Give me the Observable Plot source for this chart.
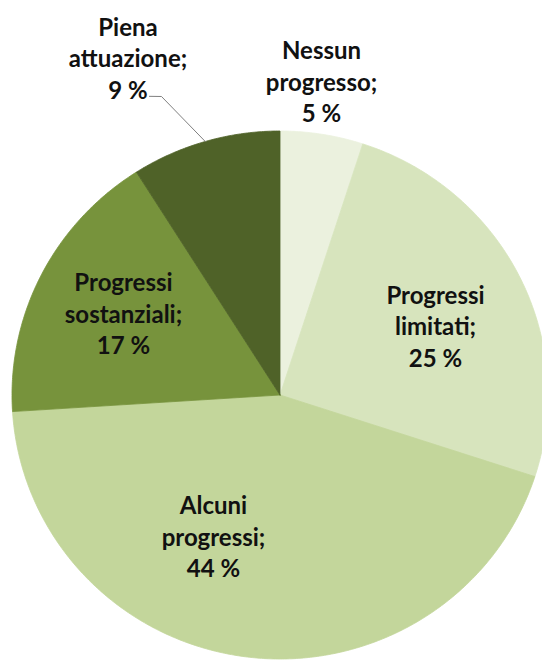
<!DOCTYPE html>
<html>
<head>
<meta charset="utf-8">
<script src="https://cdn.jsdelivr.net/npm/d3@7"></script>
<script src="https://cdn.jsdelivr.net/npm/@observablehq/plot@0.6"></script>
<style>
  html, body { margin: 0; padding: 0; background: #ffffff; }
  #chart { width: 542px; height: 660px; overflow: hidden; }
</style>
</head>
<body>
<div id="chart"></div>
<script>
// ---- data ----
const categories = ["Nessun progresso", "Progressi limitati", "Alcuni progressi", "Progressi sostanziali", "Piena attuazione"];
const values = [5, 25, 44, 17, 9];
const colors = ["#ebf1de", "#d7e4bd", "#c3d69b", "#77933c", "#4f6228"];

// ---- layout (pixels / polar label placement) ----
const W = 542, H = 660;
const CX = 279.5, CY = 394.5, RX = 268, RY = 264;
// label placement: [radius as fraction of pie radius, angle in degrees clockwise from top]
const labelPolar = [[1.2013, 7.41], [0.638, 65.43], [0.5872, 204.99], [0.6623, 298.15], [1.4003, 336.11]];
// leader line for the last slice: elbow and end in polar [r, deg]
const leaderPolar = [[1.2141, 338.64], [1.2318, 336.70]];

const total = d3.sum(values);
const toXY = (r, deg) => {
  const a = deg * Math.PI / 180;
  return [r * Math.sin(a), r * Math.cos(a)];
};

// slice polygons
const slicePts = [];
let acc = 0;
const mids = [];
categories.forEach((c, i) => {
  const a0 = acc / total * 360;
  acc += values[i];
  const a1 = acc / total * 360;
  mids.push((a0 + a1) / 2);
  slicePts.push({label: c, x: 0, y: 0});
  const n = Math.max(2, Math.ceil((a1 - a0) / 0.5));
  for (let k = 0; k <= n; k++) {
    const [x, y] = toXY(1, a0 + (a1 - a0) * k / n);
    slicePts.push({label: c, x, y});
  }
  slicePts.push({label: c, x: 0, y: 0});
});

const labels = categories.map((c, i) => {
  const [x, y] = toXY(labelPolar[i][0], labelPolar[i][1]);
  return {x, y, text: c.replace(" ", "\n") + ";\n" + values[i] + " %"};
});

const last = categories.length - 1;
const leader = [toXY(1, mids[last]), toXY(...leaderPolar[0]), toXY(...leaderPolar[1])]
  .map(([x, y]) => ({x, y}));

const chart = Plot.plot({
  width: W,
  height: H,
  margin: 0,
  x: {domain: [-CX / RX, (W - CX) / RX], axis: null},
  y: {domain: [-(H - CY) / RY, CY / RY], axis: null},
  color: {domain: categories, range: colors},
  style: {background: "#ffffff", fontFamily: "Lato, 'Open Sans', sans-serif"},
  marks: [
    Plot.line(slicePts, {x: "x", y: "y", z: "label", fill: "label", stroke: "label", strokeWidth: 0.8, curve: "linear"}),
    Plot.line(leader, {x: "x", y: "y", stroke: "#7f7f7f", strokeWidth: 1}),
    Plot.text(labels, {x: "x", y: "y", text: "text", fontSize: 24, fontWeight: "bold", fill: "#111111", lineHeight: 1.3125, fontFamily: "Lato, 'Open Sans', sans-serif"})
  ]
});
document.getElementById("chart").appendChild(chart);
</script>
</body>
</html>
